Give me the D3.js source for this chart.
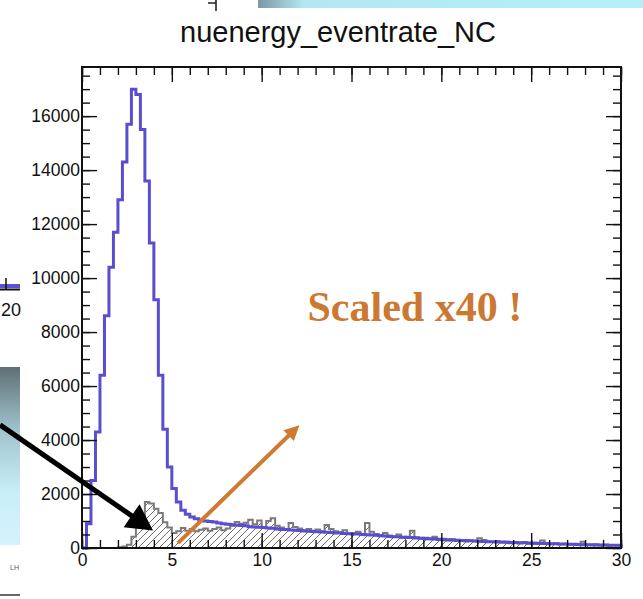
<!DOCTYPE html>
<html><head><meta charset="utf-8">
<script src="https://cdn.jsdelivr.net/npm/d3@7/dist/d3.min.js"></script>
<style>body{margin:0;background:#fff;}svg{display:block}</style>
</head><body>
<script>
// ---------- data (bins of 0.25 from 0 to 30) ----------
const binWidth = 0.25;
const xMin = 0, xMax = 30;
const blueValues = [
  0, 900, 2500, 4300, 6400, 8600, 10400, 11700, 12900, 14300,
  15700, 17000, 16800, 15500, 13600, 11300, 9200, 6400, 4400, 3000,
  2200, 1700, 1400, 1250, 1150, 1080, 1040, 1000, 980, 960,
  930, 900, 880, 860, 850, 830, 820, 790, 780, 770,
  760, 740, 730, 700, 690, 690, 670, 660, 650, 630,
  625, 610, 600, 590, 585, 570, 560, 555, 540, 530,
  520, 515, 500, 490, 480, 470, 455, 445, 430, 420,
  415, 400, 390, 385, 370, 360, 350, 345, 330, 320,
  310, 305, 295, 285, 280, 275, 265, 255, 250, 245,
  235, 230, 220, 218, 210, 205, 200, 195, 190, 185,
  180, 178, 170, 165, 160, 158, 150, 145, 140, 138,
  130, 125, 120, 118, 115, 112, 110, 105, 102, 100
];
const grayValues = [
  0, 0, 0, 0, 0, 0, 0, 0, 30, 60,
  120, 420, 760, 1150, 1700, 1650, 1450, 1300, 950, 760,
  560, 620, 740, 640, 700, 620, 680, 720, 640, 700,
  760, 660, 720, 820, 960, 900, 940, 1050, 880, 1020,
  780, 1000, 1100, 820, 760, 700, 930, 780, 720, 660,
  700, 640, 690, 620, 850, 700, 620, 580, 660, 540,
  560, 600, 520, 930, 600, 520, 480, 560, 460, 420,
  500, 380, 420, 640, 400, 340, 380, 320, 420, 300,
  340, 280, 320, 260, 300, 240, 280, 250, 360, 300,
  240, 220, 260, 200, 230, 180, 210, 170, 220, 160,
  190, 150, 280, 170, 140, 180, 130, 160, 120, 150,
  110, 230, 130, 100, 140, 90, 120, 80, 110, 90
];
const xTicks = [0, 5, 10, 15, 20, 25, 30];
const xMinorTicks = d3.range(0, 31, 1);
const yTicks = [0, 2000, 4000, 6000, 8000, 10000, 12000, 14000, 16000];
const yMinorTicks = d3.range(0, 17501, 500);
const yMax = 17820;
const title = "nuenergy_eventrate_NC";
const note = "Scaled x40 !";
const sideLabel = "20";
const sideSmall = "LH";

// ---------- drawing ----------
const W = 643, H = 599;
const svg = d3.select("body").append("svg").attr("width", W).attr("height", H)
  .style("font-family", "'Liberation Sans', Arial, sans-serif");

const x = d3.scaleLinear().domain([xMin, xMax]).range([82, 621]);
const y = d3.scaleLinear().domain([0, yMax]).range([548, 67]);

const defs = svg.append("defs");
const hatch = defs.append("pattern").attr("id", "hatch").attr("patternUnits", "userSpaceOnUse")
  .attr("width", 7).attr("height", 7);
hatch.append("path").attr("d", "M-1,8 L8,-1 M-1,1 L1,-1 M6,8 L8,6")
  .attr("stroke", "#6e6e6e").attr("stroke-width", 1);

const gTop = defs.append("linearGradient").attr("id", "gtop").attr("x1", 0).attr("x2", 1).attr("y1", 0).attr("y2", 0);
gTop.append("stop").attr("offset", "0").attr("stop-color", "#7c98a2");
gTop.append("stop").attr("offset", "0.12").attr("stop-color", "#b2e8f6");
gTop.append("stop").attr("offset", "1").attr("stop-color", "#b6eefc");

const gLeft = defs.append("linearGradient").attr("id", "gleft").attr("x1", 0).attr("x2", 0).attr("y1", 0).attr("y2", 1);
gLeft.append("stop").attr("offset", "0").attr("stop-color", "#5f6f74");
gLeft.append("stop").attr("offset", "0.35").attr("stop-color", "#9fc3cd");
gLeft.append("stop").attr("offset", "0.7").attr("stop-color", "#c8eef8");
gLeft.append("stop").attr("offset", "1").attr("stop-color", "#d4f3fc");

// slide fragments around the chart
svg.append("rect").attr("x", 258).attr("y", 0).attr("width", W - 258).attr("height", 8).attr("fill", "url(#gtop)");
svg.append("path").attr("d", "M208,3 L216,3 M216,0 L216,11").attr("stroke", "#222").attr("stroke-width", 1.6).attr("fill", "none");
svg.append("line").attr("x1", 0).attr("x2", 20).attr("y1", 286).attr("y2", 286).attr("stroke", "#5a52d0").attr("stroke-width", 4);
svg.append("line").attr("x1", 0).attr("x2", 20).attr("y1", 289.5).attr("y2", 289.5).attr("stroke", "#111").attr("stroke-width", 2);
svg.append("line").attr("x1", 6).attr("x2", 6).attr("y1", 278).attr("y2", 289).attr("stroke", "#111").attr("stroke-width", 1.5);
svg.append("text").attr("x", 1).attr("y", 316).attr("font-size", 18).attr("fill", "#111").text(sideLabel);
svg.append("rect").attr("x", 0).attr("y", 367).attr("width", 20).attr("height", 178).attr("fill", "url(#gleft)");
svg.append("text").attr("x", 10).attr("y", 570).attr("font-size", 7).attr("fill", "#555").text(sideSmall);
svg.append("line").attr("x1", 0).attr("x2", 20).attr("y1", 595).attr("y2", 595).attr("stroke", "#333").attr("stroke-width", 1.5);

// title
svg.append("text").attr("x", 338).attr("y", 42).attr("text-anchor", "middle")
  .attr("font-size", 29).attr("fill", "#111").text(title);

// histograms
function stepPoints(vals) {
  const pts = [[xMin, 0]];
  vals.forEach((v, i) => { pts.push([xMin + i * binWidth, v]); pts.push([xMin + (i + 1) * binWidth, v]); });
  pts.push([xMin + vals.length * binWidth, 0]);
  return pts;
}
const line = d3.line().x(d => x(d[0])).y(d => y(d[1]));
const grayPts = stepPoints(grayValues);
svg.append("path").attr("d", line(grayPts) + "Z").attr("fill", "url(#hatch)").attr("stroke", "none");
svg.append("path").attr("d", line(grayPts)).attr("fill", "none").attr("stroke", "#7a7a7a").attr("stroke-width", 2);
svg.append("path").attr("d", line(stepPoints(blueValues))).attr("fill", "none")
  .attr("stroke", "#5a4ed0").attr("stroke-width", 3);

// axes with inside ticks (ROOT style)
function styleAxis(g) {
  g.select(".domain").remove();
  g.selectAll("line").attr("stroke", "#111").attr("stroke-width", 1.4);
  g.selectAll("text").attr("font-size", 17.5).attr("fill", "#111").attr("font-family", "'Liberation Sans', Arial, sans-serif");
}
svg.append("g").attr("transform", "translate(82,0)")
  .call(d3.axisLeft(y).tickValues(yMinorTicks).tickSize(-8).tickFormat("")).call(styleAxis);
svg.append("g").attr("transform", "translate(82,0)")
  .call(d3.axisLeft(y).tickValues(yTicks).tickSize(-15).tickPadding(2).tickFormat(d3.format("d"))).call(styleAxis);
svg.append("g").attr("transform", "translate(621,0)")
  .call(d3.axisRight(y).tickValues(yMinorTicks).tickSize(-8).tickFormat("")).call(styleAxis);
svg.append("g").attr("transform", "translate(621,0)")
  .call(d3.axisRight(y).tickValues(yTicks).tickSize(-15).tickFormat("")).call(styleAxis);
svg.append("g").attr("transform", "translate(0,548)")
  .call(d3.axisBottom(x).tickValues(xMinorTicks).tickSize(-8).tickFormat("")).call(styleAxis);
svg.append("g").attr("transform", "translate(0,548)")
  .call(d3.axisBottom(x).tickValues(xTicks).tickSize(-15).tickPadding(6).tickFormat(d3.format("d"))).call(styleAxis);
svg.append("g").attr("transform", "translate(0,67)")
  .call(d3.axisTop(x).tickValues(xMinorTicks).tickSize(-8).tickFormat("")).call(styleAxis);
svg.append("g").attr("transform", "translate(0,67)")
  .call(d3.axisTop(x).tickValues(xTicks).tickSize(-15).tickFormat("")).call(styleAxis);

// frame
svg.append("rect").attr("x", x(xMin)).attr("y", y(yMax)).attr("width", x(xMax) - x(xMin)).attr("height", y(0) - y(yMax))
  .attr("fill", "none").attr("stroke", "#111").attr("stroke-width", 2);

// annotations (in data units)
function arrow(from, to, color, width, headLen, headW) {
  const [x1, y1] = [x(from[0]), y(from[1])];
  const [x2, y2] = [x(to[0]), y(to[1])];
  const dx = x2 - x1, dy = y2 - y1, L = Math.hypot(dx, dy);
  const ux = dx / L, uy = dy / L;
  const bx = x2 - ux * headLen, by = y2 - uy * headLen;
  svg.append("line").attr("x1", x1).attr("y1", y1).attr("x2", bx + ux * 2).attr("y2", by + uy * 2)
    .attr("stroke", color).attr("stroke-width", width);
  svg.append("path").attr("d", `M${x2},${y2} L${bx - uy * headW / 2},${by + ux * headW / 2} L${bx + uy * headW / 2},${by - ux * headW / 2} Z`)
    .attr("fill", color);
}
arrow([-4.56, 4560], [3.95, 650], "#000", 5, 26, 28);
arrow([5.34, 180], [12.1, 4550], "#cf7a30", 4, 15, 15);

svg.append("text").attr("x", x(12.55)).attr("y", y(8400))
  .attr("font-family", "'Liberation Serif', 'DejaVu Serif', serif").attr("font-weight", "bold")
  .attr("font-size", 42).attr("fill", "#cc7832").text(note);
</script>
</body></html>
